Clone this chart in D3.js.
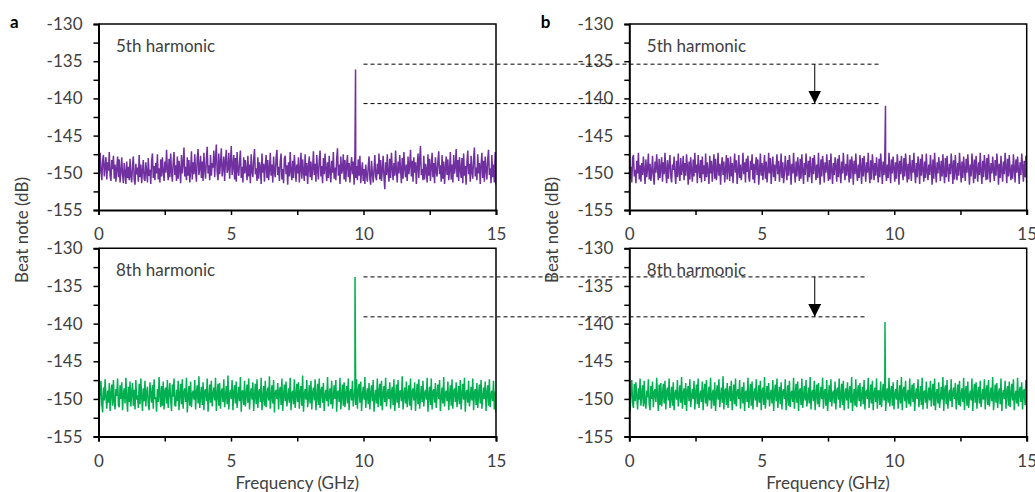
<!DOCTYPE html>
<html><head><meta charset="utf-8">
<script src="https://cdn.jsdelivr.net/npm/d3@7"></script>
<style>
html,body{margin:0;padding:0;background:#fff;}
svg text{font-family:Lato,"Open Sans",sans-serif;}
</style></head>
<body><svg id="c" width="1035" height="492"></svg>
<script>
// ---------- DATA ----------
const xTicks = [0, 2.5, 5, 7.5, 10, 12.5, 15];
const xLabels = [0, 5, 10, 15];
const yTicks = [-155, -152.5, -150, -147.5, -145, -142.5, -140, -137.5, -135, -132.5, -130];
const yLabels = [-155, -150, -145, -140, -135, -130];
const panelTitles = ["5th harmonic", "8th harmonic", "5th harmonic", "8th harmonic"];
const panelLetters = ["a", "b"];
const dcLevel = -130;              // value of the trace at 0 GHz
const peakFreq  = [9.70, 9.68, 9.67, 9.65];      // a5, a8, b5, b8 (GHz)
const peakLevel = [-136.1, -133.8, -141.0, -139.8]; // dB
const refLevels5 = [-135.4, -140.7];
const refLevels8 = [-133.8, -139.1];
const refStartFreq = 10;
const refEndFreq = [9.42, 9.0];
const arrowFreq = 7;

// noise floor samples, 0 -> 15 GHz (dB)
const noiseA5 = [
-148.0,-150.2,-147.3,-149.8,-151.0,-148.4,-147.6,-150.5,-149.1,-147.9,-150.9,-148.6,-149.7,-147.2,-150.4,-151.1,-148.3,-149.5,-147.7,-150.8,
-148.9,-151.2,-149.4,-147.8,-150.6,-148.2,-151.3,-149.9,-147.9,-150.3,-151.4,-148.7,-150.0,-151.5,-148.5,-150.7,-149.2,-151.0,-148.1,-150.5,
-151.3,-149.0,-147.8,-150.9,-151.6,-148.8,-150.2,-149.3,-151.2,-147.6,-150.6,-148.9,-151.4,-149.7,-148.3,-150.8,-151.1,-148.6,-149.9,-151.3,
-148.0,-150.4,-149.6,-151.5,-148.4,-147.4,-150.7,-149.1,-151.0,-148.7,-150.1,-147.5,-150.9,-149.4,-151.3,-148.2,-150.5,-147.9,-149.8,-151.1,
-148.5,-150.0,-146.9,-149.6,-151.0,-148.1,-150.6,-147.4,-149.9,-151.2,-148.6,-147.2,-150.3,-149.0,-151.1,-147.8,-150.8,-148.4,-149.5,-151.4,
-147.6,-150.1,-148.8,-146.6,-150.5,-149.2,-151.0,-147.9,-150.4,-148.3,-151.3,-149.7,-147.1,-150.9,-148.6,-150.2,-147.5,-149.8,-151.2,-148.0,
-146.8,-150.3,-149.4,-147.7,-150.7,-148.5,-151.1,-147.3,-149.6,-150.8,-148.2,-146.5,-150.1,-149.0,-151.0,-147.6,-150.4,-148.7,-149.3,-147.0,
-150.6,-148.1,-146.2,-149.9,-151.0,-147.4,-150.2,-148.8,-146.7,-150.5,-149.3,-147.8,-151.1,-148.4,-146.9,-150.0,-149.5,-147.3,-150.8,-148.6,
-146.4,-150.3,-149.1,-147.6,-150.9,-148.0,-151.2,-147.2,-149.7,-150.4,-148.5,-147.0,-150.7,-149.2,-151.3,-147.9,-150.1,-148.3,-149.6,-151.0,
-147.7,-150.5,-148.9,-151.4,-147.5,-149.8,-150.6,-148.2,-146.8,-150.2,-149.4,-151.1,-147.9,-150.8,-148.6,-149.3,-151.5,-147.4,-150.0,-148.8,
-151.2,-149.0,-147.6,-150.7,-148.3,-151.0,-149.6,-147.3,-150.4,-148.9,-151.3,-147.8,-149.9,-150.6,-148.0,-146.9,-150.3,-149.2,-151.1,-148.5,
-147.4,-150.9,-149.5,-151.4,-148.1,-147.7,-150.2,-149.0,-151.6,-148.6,-150.5,-147.2,-149.8,-151.0,-148.4,-150.7,-147.6,-149.3,-151.2,-148.9,
-150.1,-147.9,-151.3,-149.6,-147.3,-150.8,-148.2,-149.9,-151.1,-147.5,-150.4,-148.7,-151.5,-149.2,-147.8,-150.6,-148.5,-151.0,-149.4,-147.1,
-150.3,-148.8,-151.2,-147.6,-149.7,-150.9,-148.3,-147.0,-150.5,-149.1,-151.4,-148.0,-150.2,-147.4,-149.5,-151.1,-148.6,-150.7,-147.7,-149.9,
-151.3,-148.4,-150.0,-147.2,-150.8,-149.3,-151.0,-148.1,-146.7,-150.4,-148.9,-151.5,-147.8,-150.1,-149.6,-147.5,-150.9,-148.3,-151.2,-149.0,
-147.6,-150.6,-148.7,-151.3,-149.4,-147.9,-150.2,-148.5,-151.6,-147.3,-150.7,-149.1,-151.0,-148.2,-150.4,-147.7,-151.4,-149.8,-148.6,-151.1,
-149.5,-151.5,-148.9,-150.3,-151.2,-149.2,-147.8,-150.8,-151.6,-148.4,-150.0,-151.3,-149.6,-147.6,-150.5,-151.0,-148.8,-150.2,-147.4,-150.9,
-148.3,-151.1,-149.7,-147.7,-150.6,-152.2,-148.6,-150.3,-147.5,-149.9,-151.2,-148.1,-150.7,-147.3,-149.4,-151.0,-148.7,-150.4,-147.0,-149.8,
-151.3,-148.5,-150.1,-147.6,-149.6,-151.4,-148.0,-150.8,-147.2,-149.3,-150.6,-148.9,-151.1,-147.8,-150.2,-149.0,-146.9,-150.5,-148.4,-151.2,
-147.9,-150.0,-148.6,-151.5,-149.2,-147.4,-150.7,-148.2,-146.4,-150.3,-149.5,-151.0,-147.7,-150.9,-148.8,-149.6,-151.3,-147.5,-150.4,-148.1,
-151.1,-149.3,-147.3,-150.6,-148.7,-151.4,-147.9,-149.8,-150.5,-148.4,-147.1,-150.2,-149.0,-151.2,-147.6,-150.8,-148.5,-151.5,-149.4,-147.8,
-150.3,-148.2,-151.0,-149.7,-147.2,-150.9,-148.9,-151.3,-147.6,-150.1,-149.2,-146.8,-150.6,-148.3,-151.1,-147.9,-149.5,-150.7,-148.0,-151.4,
-147.4,-150.4,-149.1,-151.6,-148.6,-147.0,-150.2,-148.8,-151.2,-147.7,-149.9,-150.8,-148.1,-146.6,-150.5,-149.3,-151.0,-147.5,-150.1,-148.7,
-151.5,-149.0,-147.3,-150.7,-148.4,-151.2,-147.8,-149.6,-150.9,-148.2,-146.9,-150.3,-149.4,-151.4,-147.6,-150.6,-148.9,-151.3,-147.2,-151.6];

const noiseB5 = [
-147.5,-150.8,-149.2,-151.3,-148.0,-147.6,-150.5,-149.6,-151.4,-148.4,-150.1,-147.3,-150.9,-149.0,-151.2,-148.7,-150.3,-147.8,-149.7,-151.5,
-148.2,-150.6,-149.4,-147.4,-150.9,-148.8,-151.1,-149.9,-147.7,-150.4,-151.6,-148.5,-150.0,-147.5,-149.5,-151.0,-148.1,-150.7,-149.3,-147.9,
-151.2,-148.6,-150.2,-147.3,-149.8,-151.4,-148.3,-150.8,-149.1,-147.6,-150.5,-151.3,-148.9,-149.6,-147.8,-150.1,-151.5,-148.4,-150.6,-147.4,
-149.9,-151.1,-148.0,-150.3,-149.4,-147.7,-151.0,-148.7,-150.4,-147.5,-149.2,-151.6,-148.5,-150.9,-147.9,-149.7,-151.2,-148.2,-150.5,-147.3,
-150.0,-148.9,-151.4,-147.6,-149.5,-150.7,-148.3,-151.3,-147.8,-150.2,-149.0,-151.1,-147.4,-150.6,-148.6,-149.8,-151.5,-147.7,-150.1,-148.4,
-151.2,-149.3,-147.5,-150.8,-148.1,-151.0,-149.7,-147.3,-150.4,-148.8,-151.6,-149.1,-147.9,-150.3,-148.5,-151.3,-149.6,-147.6,-150.9,-148.0,
-149.4,-151.1,-147.8,-150.5,-148.7,-151.4,-149.2,-147.4,-150.0,-148.3,-151.5,-149.8,-147.6,-150.7,-148.9,-151.0,-149.5,-147.3,-150.2,-148.6,
-151.3,-148.1,-149.9,-147.7,-150.6,-151.2,-148.4,-149.6,-147.5,-150.9,-148.8,-151.4,-149.0,-147.9,-150.3,-148.2,-151.6,-149.7,-147.4,-150.4,
-148.7,-151.0,-149.3,-147.6,-150.8,-148.5,-151.3,-149.8,-147.3,-150.1,-148.0,-151.5,-149.4,-147.8,-150.6,-148.9,-151.1,-149.1,-147.5,-150.2,
-148.4,-151.2,-149.6,-147.4,-150.7,-148.6,-151.4,-150.0,-147.7,-149.5,-151.0,-148.3,-150.4,-147.6,-149.2,-151.6,-148.8,-150.1,-147.3,-149.9,
-151.3,-148.5,-150.5,-147.9,-149.4,-151.1,-148.1,-150.8,-147.5,-149.7,-151.5,-148.7,-150.3,-147.4,-149.0,-151.2,-148.4,-150.6,-147.8,-149.6,
-151.4,-148.0,-150.2,-147.6,-149.3,-151.0,-148.9,-150.7,-147.3,-149.8,-151.6,-148.2,-150.5,-147.7,-149.1,-151.3,-148.6,-150.0,-147.5,-149.5,
-151.1,-148.3,-150.9,-147.4,-149.7,-151.5,-148.7,-150.3,-147.9,-149.2,-151.2,-148.1,-150.6,-147.6,-149.9,-151.4,-148.5,-150.1,-147.3,-149.4,
-151.0,-148.8,-150.4,-147.5,-149.6,-151.3,-148.2,-150.8,-147.8,-149.0,-151.6,-148.4,-150.2,-147.4,-149.8,-151.1,-148.9,-150.7,-147.6,-149.3,
-151.5,-148.0,-150.5,-147.7,-149.5,-151.2,-148.6,-150.0,-147.3,-149.9,-151.4,-148.3,-150.9,-147.5,-149.1,-151.0,-148.7,-150.4,-147.9,-149.7,
-151.3,-148.1,-150.6,-147.4,-149.2,-151.5,-148.5,-150.3,-147.6,-149.8,-151.1,-148.9,-150.7,-147.3,-149.6,-151.4,-148.2,-150.1,-147.8,-149.4,
-151.2,-148.6,-150.8,-147.5,-149.0,-151.6,-148.4,-150.2,-147.7,-149.7,-151.0,-148.0,-150.5,-147.4,-149.3,-151.3,-148.8,-150.9,-147.6,-149.5,
-151.1,-148.3,-150.0,-147.3,-149.9,-151.4,-148.7,-150.6,-147.8,-149.1,-151.5,-148.1,-150.4,-147.5,-149.6,-151.2,-148.5,-150.7,-147.4,-149.8,
-151.0,-148.9,-150.3,-147.6,-149.4,-151.6,-148.2,-150.8,-147.3,-149.7,-151.3,-148.6,-150.1,-147.9,-149.2,-151.1,-148.4,-150.5,-147.5,-149.9,
-151.4,-148.0,-150.6,-147.7,-149.5,-151.2,-148.8,-150.2,-147.4,-149.0,-151.5,-148.3,-150.9,-147.6,-149.8,-151.0,-148.7,-150.4,-147.3,-149.3,
-151.3,-148.5,-150.7,-147.8,-149.6,-151.1,-148.1,-150.0,-147.5,-149.4,-151.6,-148.9,-150.5,-147.4,-149.1,-151.4,-148.2,-150.8,-147.7,-149.7,
-151.2,-148.6,-150.3,-147.3,-149.9,-151.5,-148.4,-150.6,-147.6,-149.2,-151.0,-148.0,-150.9,-147.5,-149.5,-151.3,-148.7,-150.1,-147.8,-149.6,
-151.1,-148.3,-150.4,-147.4,-149.0,-151.6,-148.8,-150.7,-147.7,-149.8,-151.2,-148.5,-150.2,-147.3,-149.3,-151.4,-148.1,-150.5,-147.6,-149.7,
-151.0,-148.9,-150.8,-147.5,-149.4,-151.3,-148.2,-150.0,-147.8,-149.6,-151.5,-148.6,-150.3,-147.4,-149.1,-151.2,-148.4,-150.6,-147.7,-151.4];

const noiseA8 = [
-148.3,-151.5,-149.0,-147.6,-150.7,-151.8,-148.5,-150.2,-147.4,-149.8,-151.3,-148.9,-150.5,-147.9,-151.6,-149.3,-148.1,-150.9,-147.5,-150.3,
-151.4,-148.7,-149.6,-147.3,-150.8,-151.1,-148.2,-150.0,-147.8,-151.5,-149.4,-148.6,-150.6,-147.2,-149.9,-151.7,-148.4,-150.4,-147.7,-151.0,
-149.2,-147.9,-150.9,-148.8,-151.4,-147.5,-150.1,-149.5,-151.2,-148.0,-150.7,-147.3,-149.7,-151.6,-148.6,-150.3,-147.6,-151.0,-149.1,-148.4,
-150.8,-151.5,-147.8,-149.4,-150.5,-148.2,-151.3,-147.4,-150.0,-149.8,-151.7,-148.7,-150.4,-147.1,-149.6,-151.1,-148.3,-150.9,-147.7,-151.4,
-149.0,-148.5,-150.6,-147.5,-151.2,-149.3,-147.9,-150.2,-151.6,-148.1,-149.7,-147.3,-150.8,-151.0,-148.8,-150.3,-147.6,-151.5,-149.5,-148.0,
-150.7,-147.4,-151.3,-149.1,-148.6,-150.4,-147.2,-151.8,-149.8,-148.3,-150.9,-147.7,-151.1,-149.4,-148.9,-150.1,-147.5,-151.4,-149.2,-148.2,
-150.6,-147.0,-151.2,-149.6,-148.4,-150.8,-147.8,-151.5,-149.0,-148.7,-150.3,-147.3,-151.7,-149.9,-148.1,-150.5,-147.6,-151.0,-149.3,-148.5,
-150.2,-147.2,-151.6,-149.5,-148.0,-150.9,-147.9,-151.3,-149.1,-148.6,-150.4,-147.4,-151.1,-149.7,-148.3,-150.7,-146.9,-151.4,-149.4,-148.8,
-150.0,-147.5,-151.5,-149.2,-148.2,-150.6,-147.7,-151.2,-149.8,-148.4,-150.3,-147.1,-151.7,-149.0,-148.9,-150.8,-147.6,-151.0,-149.5,-148.1,
-150.5,-147.3,-151.4,-149.3,-148.6,-150.1,-147.8,-151.6,-149.6,-148.0,-150.7,-147.4,-151.2,-149.1,-148.7,-150.4,-147.2,-151.5,-149.9,-148.3,
-150.9,-147.6,-151.1,-149.4,-148.5,-150.2,-147.0,-151.3,-149.7,-148.2,-150.6,-147.5,-151.8,-149.2,-148.8,-150.0,-147.9,-151.4,-149.0,-148.4,
-150.8,-147.3,-151.6,-149.5,-148.1,-150.3,-147.7,-151.0,-149.8,-148.6,-150.5,-147.2,-151.5,-149.3,-148.9,-150.7,-147.4,-151.2,-149.6,-148.0,
-150.4,-147.8,-151.3,-149.1,-148.3,-150.9,-146.9,-151.7,-149.4,-148.7,-150.1,-147.5,-151.1,-149.9,-148.2,-150.6,-147.6,-151.4,-149.2,-148.5,
-150.2,-147.4,-151.5,-149.7,-148.0,-150.8,-147.3,-151.2,-149.0,-148.4,-150.5,-147.9,-151.6,-149.5,-148.8,-150.3,-147.1,-151.0,-149.3,-148.6,
-150.7,-147.6,-151.3,-149.8,-148.2,-150.0,-147.5,-151.7,-149.1,-148.9,-150.4,-147.2,-151.4,-149.6,-148.1,-150.9,-147.8,-151.1,-149.4,-148.3,
-150.6,-147.3,-151.5,-149.2,-148.7,-150.2,-147.6,-151.0,-149.9,-148.5,-150.8,-147.4,-151.3,-149.0,-148.0,-150.5,-147.7,-151.6,-149.5,-148.4,
-150.1,-147.1,-151.2,-149.7,-148.6,-150.7,-147.9,-151.4,-149.3,-148.2,-150.3,-147.5,-151.7,-149.8,-148.8,-150.6,-147.3,-151.1,-149.1,-148.0,
-150.9,-147.6,-151.5,-149.4,-148.3,-150.4,-147.2,-151.0,-149.6,-148.7,-150.0,-147.8,-151.3,-149.2,-148.4,-150.8,-147.4,-151.6,-149.9,-148.1,
-150.5,-147.5,-151.2,-149.0,-148.9,-150.3,-147.0,-151.4,-149.7,-148.5,-150.6,-147.7,-151.1,-149.4,-148.2,-150.9,-147.3,-151.5,-149.1,-148.6,
-150.2,-147.8,-151.6,-149.5,-148.0,-150.7,-147.4,-151.3,-149.8,-148.3,-150.4,-147.6,-151.0,-149.3,-148.8,-150.1,-147.2,-151.7,-149.6,-148.4,
-150.8,-147.3,-151.4,-149.1,-148.7,-150.5,-147.9,-151.2,-149.4,-148.1,-150.0,-147.5,-151.6,-149.9,-148.5,-150.6,-147.1,-151.0,-149.2,-148.9,
-150.3,-147.7,-151.5,-149.6,-148.2,-150.9,-147.4,-151.3,-149.0,-148.6,-150.4,-147.8,-151.1,-149.7,-148.3,-150.7,-147.5,-151.4,-149.5,-148.0,
-150.1,-147.2,-151.7,-149.3,-148.8,-150.5,-147.6,-151.0,-149.8,-148.4,-150.2,-147.3,-151.5,-149.1,-148.7,-150.8,-147.9,-151.2,-149.4,-148.1,
-150.6,-147.5,-151.3,-149.9,-148.5,-150.0,-147.7,-151.6,-149.2,-148.2,-150.9,-147.4,-151.1,-149.6,-148.9,-150.3,-147.6,-151.4,-149.0,-151.8];

const noiseB8 = [
-148.4,-151.6,-149.1,-147.5,-150.6,-151.2,-148.0,-150.3,-147.8,-149.7,-151.4,-148.6,-150.1,-147.3,-150.9,-149.4,-148.2,-151.0,-147.6,-150.5,
-151.3,-148.9,-149.8,-147.4,-150.7,-151.5,-148.3,-150.0,-147.7,-151.1,-149.2,-148.7,-150.4,-147.2,-149.6,-151.6,-148.1,-150.8,-147.9,-151.0,
-149.5,-148.0,-150.6,-147.6,-151.4,-149.0,-148.5,-150.2,-147.3,-151.2,-149.9,-148.4,-150.9,-147.8,-151.5,-149.3,-148.8,-150.1,-147.5,-151.0,
-149.7,-148.2,-150.5,-147.1,-151.3,-149.4,-148.6,-150.8,-147.9,-151.6,-149.0,-148.3,-150.3,-147.4,-151.1,-149.8,-148.7,-150.0,-147.6,-151.4,
-149.2,-148.1,-150.7,-147.3,-151.2,-149.6,-148.9,-150.4,-147.7,-151.5,-149.1,-148.0,-150.6,-147.5,-151.0,-149.9,-148.4,-150.2,-147.2,-151.3,
-149.5,-148.8,-150.9,-147.8,-151.6,-149.3,-148.2,-150.1,-147.4,-151.1,-149.7,-148.5,-150.5,-147.0,-151.4,-149.0,-148.6,-150.8,-147.9,-151.2,
-149.4,-148.3,-150.3,-147.6,-151.5,-149.8,-148.1,-150.7,-147.3,-151.0,-149.2,-148.7,-150.0,-147.5,-151.3,-149.6,-148.4,-150.6,-147.8,-151.6,
-149.1,-148.9,-150.4,-147.2,-151.2,-149.5,-148.0,-150.9,-147.7,-151.4,-149.3,-148.6,-150.2,-147.4,-151.1,-149.9,-148.2,-150.5,-147.6,-151.5,
-149.0,-148.5,-150.8,-147.1,-151.3,-149.7,-148.3,-150.1,-147.9,-151.0,-149.4,-148.8,-150.6,-147.5,-151.6,-149.2,-148.1,-150.3,-147.3,-151.2,
-149.6,-148.4,-150.7,-147.8,-151.4,-149.1,-148.7,-150.0,-147.4,-151.5,-149.8,-148.2,-150.9,-147.6,-151.1,-149.3,-148.9,-150.4,-147.2,-151.3,
-149.5,-148.0,-150.5,-147.7,-151.6,-149.0,-148.6,-150.8,-147.3,-151.2,-149.7,-148.3,-150.2,-147.5,-151.0,-149.9,-148.5,-150.6,-147.1,-151.4,
-149.2,-148.8,-150.3,-147.6,-151.5,-149.4,-148.1,-150.7,-147.9,-151.1,-149.6,-148.4,-150.0,-147.2,-151.3,-149.1,-148.7,-150.9,-147.5,-151.6,
-149.8,-148.2,-150.4,-147.4,-151.0,-149.3,-148.9,-150.6,-147.7,-151.4,-149.0,-148.5,-150.1,-147.3,-151.2,-149.7,-148.0,-150.8,-147.6,-151.5,
-149.5,-148.6,-150.2,-147.8,-151.3,-149.2,-148.3,-150.5,-147.1,-151.6,-149.9,-148.7,-150.9,-147.4,-151.1,-149.4,-148.2,-150.3,-147.9,-151.0,
-149.6,-148.4,-150.7,-147.5,-151.4,-149.1,-148.8,-150.0,-147.2,-151.2,-149.8,-148.1,-150.6,-147.6,-151.5,-149.3,-148.5,-150.4,-147.3,-151.3,
-149.0,-148.9,-150.8,-147.7,-151.1,-149.5,-148.0,-150.2,-147.4,-151.6,-149.7,-148.6,-150.5,-147.2,-151.0,-149.2,-148.3,-150.9,-147.8,-151.4,
-149.4,-148.7,-150.1,-147.5,-151.3,-149.9,-148.2,-150.6,-147.1,-151.5,-149.0,-148.4,-150.3,-147.6,-151.2,-149.6,-148.8,-150.7,-147.3,-151.0,
-149.3,-148.1,-150.4,-147.9,-151.6,-149.5,-148.6,-150.0,-147.4,-151.1,-149.8,-148.3,-150.8,-147.2,-151.4,-149.1,-148.9,-150.5,-147.7,-151.3,
-149.7,-148.5,-150.2,-147.6,-151.0,-149.2,-148.0,-150.9,-147.3,-151.5,-149.4,-148.7,-150.6,-147.8,-151.2,-149.9,-148.4,-150.1,-147.1,-151.6,
-149.0,-148.2,-150.7,-147.5,-151.3,-149.6,-148.8,-150.3,-147.4,-151.1,-149.3,-148.5,-150.0,-147.9,-151.4,-149.8,-148.1,-150.8,-147.6,-151.0,
-149.5,-148.6,-150.4,-147.2,-151.5,-149.1,-148.3,-150.9,-147.7,-151.2,-149.7,-148.9,-150.2,-147.3,-151.6,-149.4,-148.0,-150.5,-147.8,-151.3,
-149.2,-148.4,-150.6,-147.6,-151.1,-149.9,-148.7,-150.1,-147.4,-151.4,-149.0,-148.2,-150.8,-147.5,-151.0,-149.6,-148.5,-150.3,-147.1,-151.5,
-149.8,-148.1,-150.5,-147.9,-151.2,-149.3,-148.6,-150.7,-147.3,-151.6,-149.5,-148.8,-150.0,-147.6,-151.3,-149.1,-148.3,-150.9,-147.7,-151.1,
-149.4,-148.0,-150.2,-147.4,-151.5,-149.7,-148.9,-150.6,-147.2,-151.0,-149.3,-148.4,-150.4,-147.8,-151.4,-149.0,-148.7,-150.8,-147.5,-151.2];

const seriesColors = ["#7030A0", "#00B050"]; // 5th, 8th harmonic

// ---------- LAYOUT ----------
const svg = d3.select("#c");
svg.append("rect").attr("width",1035).attr("height",492).attr("fill","#fff");
const textColor = "#404040";
const fontSize = 17;
const colX = [[98.5, 496], [629.3, 1026.7]];
const rowY = [[24, 210], [248.3, 436.6]];

const panels = [
  {col:0,row:0,noise:noiseA5,pi:0},
  {col:0,row:1,noise:noiseA8,pi:1},
  {col:1,row:0,noise:noiseB5,pi:2},
  {col:1,row:1,noise:noiseB8,pi:3}
];
const scales = {};

panels.forEach((p,k)=>{
  const [x0,x1] = colX[p.col], [yt,yb] = rowY[p.row];
  const x = d3.scaleLinear().domain([0,15]).range([x0,x1]);
  const y = d3.scaleLinear().domain([-155,-130]).range([yb,yt]);
  scales[p.col+"_"+p.row] = {x,y};
  const g = svg.append("g");
  const clipId = "clip"+k;
  svg.append("clipPath").attr("id",clipId).append("rect")
    .attr("x",x0).attr("y",yt-1).attr("width",x1-x0).attr("height",yb-yt+1);
  const n = p.noise.length;
  const pts = [{f:0,v:dcLevel}];
  p.noise.forEach((v,i)=>pts.push({f:i*15/(n-1), v}));
  pts.push({f:peakFreq[p.pi], v:peakLevel[p.pi]});
  pts.sort((a,b)=>a.f-b.f);
  g.append("path").datum(pts)
    .attr("clip-path",`url(#${clipId})`)
    .attr("fill","none").attr("stroke",seriesColors[p.row]).attr("stroke-width",1.5)
    .attr("stroke-linejoin","miter").attr("stroke-miterlimit",1.5)
    .attr("d",d3.line().x(d=>x(d.f)).y(d=>y(d.v)));
  g.append("path").attr("d",`M${x0},${yt}H${x1}V${yb}`).attr("fill","none")
    .attr("stroke","#000").attr("stroke-width",1.5);
  const ax = g.append("g").attr("transform",`translate(0,${yb})`)
    .call(d3.axisBottom(x).tickValues(xTicks).tickSize(5).tickPadding(13)
      .tickFormat(d=>xLabels.includes(d)?d3.format("d")(d):""));
  const ay = g.append("g").attr("transform",`translate(${x0},0)`)
    .call(d3.axisLeft(y).tickValues(yTicks).tickSize(5).tickPadding(11)
      .tickFormat(d=>yLabels.includes(d)?String(d):""));
  [ax,ay].forEach(a=>{
    a.select(".domain").attr("stroke","#000").attr("stroke-width",2);
    a.selectAll(".tick line").attr("stroke","#000").attr("stroke-width",1.5);
    a.selectAll("text").attr("font-size",fontSize).attr("fill",textColor)
      .attr("font-family","Lato, 'Open Sans', sans-serif");
  });
  g.append("text").attr("x",x0+17.5).attr("y",yt+27.5)
    .attr("font-size",fontSize).attr("fill",textColor).text(panelTitles[p.pi]);
});

[0,1].forEach(c=>{
  const [x0,x1] = colX[c];
  svg.append("text").attr("x",x0-88.5).attr("y",28).attr("font-size",17)
    .attr("font-weight","bold").attr("fill","#000").text(panelLetters[c]);
  svg.append("text").attr("transform",`translate(${x0-71},230) rotate(-90)`)
    .attr("text-anchor","middle").attr("font-size",fontSize).attr("fill",textColor)
    .text("Beat note (dB)");
  svg.append("text").attr("x",(x0+x1)/2).attr("y",489)
    .attr("text-anchor","middle").attr("font-size",fontSize).attr("fill",textColor)
    .text("Frequency (GHz)");
});

svg.append("defs").append("marker").attr("id","ah").attr("viewBox","0 0 10 10")
  .attr("refX",10).attr("refY",5).attr("markerWidth",13).attr("markerHeight",13)
  .attr("markerUnits","userSpaceOnUse").attr("orient","auto")
  .append("path").attr("d","M0,0L10,5L0,10Z").attr("fill","#000");

[[refLevels5,0],[refLevels8,1]].forEach(([lv,row])=>{
  const sa = scales["0_"+row], sb = scales["1_"+row];
  lv.forEach(v=>{
    svg.append("line").attr("x1",sa.x(refStartFreq)).attr("x2",sb.x(refEndFreq[row]))
      .attr("y1",sa.y(v)).attr("y2",sa.y(v))
      .attr("stroke","#000").attr("stroke-width",1).attr("stroke-dasharray","4,3");
  });
  svg.append("line").attr("x1",sb.x(arrowFreq)).attr("x2",sb.x(arrowFreq))
    .attr("y1",sb.y(lv[0])).attr("y2",sb.y(lv[1]))
    .attr("stroke","#000").attr("stroke-width",1).attr("marker-end","url(#ah)");
});
</script></body></html>
